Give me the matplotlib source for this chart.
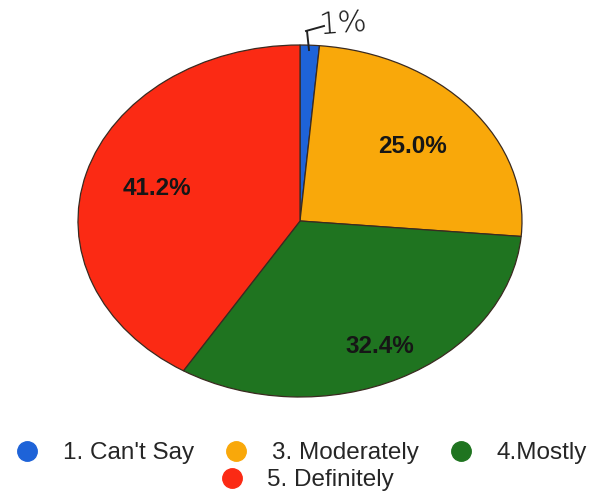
import numpy as np
import matplotlib.pyplot as plt
from matplotlib.lines import Line2D

labels = ["1. Can't Say", "3. Moderately", "4.Mostly", "5. Definitely"]
values = [1.4, 25.0, 32.4, 41.2]
colors = ["#1e63d8", "#f9a80a", "#1f7420", "#fb2a14"]
label_r = [0.0, 0.66, 0.80, 0.67]  # distance of each % label from centre

fig = plt.figure(figsize=(6.03, 4.93), dpi=100)
# pie looks stretched in the scan, so axes are wider than tall
ax = fig.add_axes([78 / 603, (493 - 397) / 493, 444 / 603, 352 / 493])

wedges, texts, autotexts = ax.pie(
    values, colors=colors, startangle=90, counterclock=False,
    autopct="%1.1f%%", pctdistance=0.65,
    wedgeprops=dict(edgecolor="#3a2a20", linewidth=0.9),
    textprops=dict(fontsize=17.5, fontweight="bold", color="#161616",
                   family="Liberation Sans"))
autotexts[0].set_text("")
for w, t, r in zip(wedges, autotexts, label_r):
    mid = np.deg2rad((w.theta1 + w.theta2) / 2)
    t.set_position((r * np.cos(mid), r * np.sin(mid)))
ax.set_aspect("auto")
ax.set_xlim(-1.0, 1.0)
ax.set_ylim(-1.0, 1.0)

# handwritten note for the tiny slice
fig.text(318 / 603, 1 - 24 / 493, "1%", fontsize=22, color="#111111",
         family="DejaVu Sans", fontweight="light", va="center", rotation=4)
fig.add_artist(Line2D([306 / 603, 324 / 603], [1 - 31 / 493, 1 - 26 / 493],
                      color="#222222", lw=1.4))
fig.add_artist(Line2D([307 / 603, 309 / 603], [1 - 31 / 493, 1 - 50 / 493],
                      color="#222222", lw=1.4))

def handle(c):
    return Line2D([], [], marker="o", linestyle="", markersize=14,
                  markerfacecolor=c, markeredgecolor=c)

leg_font = dict(family="Liberation Sans", size=17.5)
fig.legend([handle(c) for c in colors[:3]], labels[:3], loc="center",
           bbox_to_anchor=(0.5, 1 - 453 / 493), ncol=3, frameon=False,
           prop=leg_font, handletextpad=1.0, columnspacing=1.3,
           handlelength=0.9, labelcolor="#262626")
fig.legend([handle(colors[3])], labels[3:], loc="center",
           bbox_to_anchor=(0.51, 1 - 480 / 493), frameon=False,
           prop=leg_font, handletextpad=1.0, handlelength=0.9,
           labelcolor="#262626")

fig.savefig("out.png", dpi=100)
